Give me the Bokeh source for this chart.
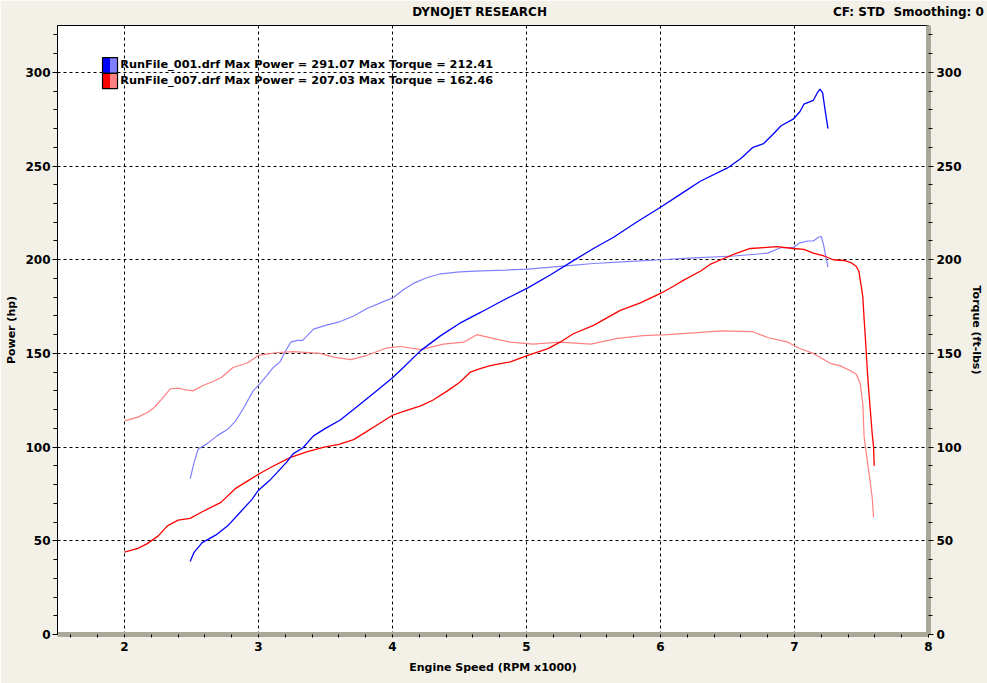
from bokeh.plotting import figure
from bokeh.models import Range1d, LinearAxis, FixedTicker, Label, BoxAnnotation
from bokeh.embed import file_html
from bokeh.resources import INLINE

# ---------------- data ----------------
X_TICKS = [2, 3, 4, 5, 6, 7, 8]
X_MINOR = [1.6, 1.8, 2.2, 2.4, 2.6, 2.8, 3.2, 3.4, 3.6, 3.8, 4.2, 4.4, 4.6, 4.8,
           5.2, 5.4, 5.6, 5.8, 6.2, 6.4, 6.6, 6.8, 7.2, 7.4, 7.6, 7.8]
Y_TICKS = [0, 50, 100, 150, 200, 250, 300]
Y_MINOR = [10, 20, 30, 40, 60, 70, 80, 90, 110, 120, 130, 140, 160, 170, 180, 190,
           210, 220, 230, 240, 260, 270, 280, 290, 310, 320]

TITLE = "DYNOJET RESEARCH"
SUBTITLE = "CF: STD\u00a0 Smoothing: 0"

RUNS = ["RunFile_001.drf", "RunFile_007.drf"]
MAX_POWER = [291.07, 207.03]
MAX_TORQUE = [212.41, 162.46]

# run 001 power (hp)
rpm_p1 = [2.49, 2.52, 2.58, 2.68, 2.77, 2.86, 2.95, 3.0, 3.08, 3.14, 3.21, 3.26, 3.33,
          3.41, 3.50, 3.61, 3.76, 3.88, 4.0, 4.06, 4.21, 4.36, 4.50, 4.66, 4.83, 5.01,
          5.18, 5.35, 5.50, 5.65, 5.82, 6.0, 6.15, 6.30, 6.50, 6.60, 6.69, 6.77, 6.84,
          6.90, 6.99, 7.04, 7.07, 7.14, 7.17, 7.19, 7.21, 7.23, 7.25]
pow_1 = [39, 44, 49, 53, 58, 65, 72, 77, 82, 86.5, 92, 96.5, 99.5,
         106, 110, 114.5, 123, 130, 137, 141, 151.5, 159.5, 166, 172, 178.5, 185,
         192, 199.5, 206, 212, 220, 228, 235, 242, 249, 254, 260, 262, 267,
         271.5, 275, 279, 283, 285, 289, 291, 289, 279, 270]

# run 001 torque (ft-lbs)
rpm_t1 = [2.49, 2.52, 2.55, 2.62, 2.69, 2.77, 2.83, 2.89, 2.96, 3.0, 3.06, 3.11, 3.16,
          3.20, 3.24, 3.29, 3.33, 3.41, 3.50, 3.61, 3.71, 3.81, 3.91, 4.01, 4.08, 4.16,
          4.26, 4.36, 4.50, 4.66, 4.85, 5.01, 5.25, 5.50, 5.75, 6.0, 6.25, 6.55, 6.80,
          6.90, 6.99, 7.04, 7.10, 7.14, 7.18, 7.20, 7.22, 7.23, 7.25]
trq_1 = [83, 92, 99, 102, 106, 109.5, 114, 121, 130, 133, 138, 142.5, 145.5,
         151, 156, 157, 157, 163, 165, 167, 170, 174, 177, 180, 184, 187.5,
         190.5, 192.5, 193.5, 194, 194.5, 195, 196.5, 198, 199, 200, 201, 202, 203.5,
         206.5, 206.5, 209, 210, 210, 212, 212.4, 207, 203, 196]

# run 007 power (hp)
rpm_p7 = [2.0, 2.1, 2.17, 2.25, 2.32, 2.40, 2.49, 2.58, 2.72, 2.83, 2.92, 3.0, 3.1,
          3.24, 3.36, 3.49, 3.6, 3.71, 3.8, 3.9, 4.0, 4.1, 4.21, 4.30, 4.41, 4.5, 4.58,
          4.66, 4.73, 4.88, 5.01, 5.16, 5.25, 5.35, 5.50, 5.60, 5.70, 5.85, 6.0, 6.1,
          6.17, 6.3, 6.37, 6.45, 6.55, 6.67, 6.77, 6.87, 6.99, 7.07, 7.14, 7.22, 7.29,
          7.37, 7.42, 7.46, 7.48, 7.50, 7.51, 7.52, 7.53, 7.54, 7.55, 7.56, 7.57, 7.58,
          7.59, 7.595]
pow_7 = [44, 46, 48.5, 52.5, 58, 61, 62, 65.5, 70.5, 78, 82, 85.5, 89.5,
         94.5, 97.5, 100, 101.5, 104, 108, 112.5, 117, 119.5, 122, 125, 130, 134.5, 140,
         142, 143.5, 145.5, 149, 152.6, 156, 160.5, 165, 169, 173, 177, 182, 186,
         189, 194, 197.5, 200, 203, 206, 206.5, 207, 206, 205.5, 203.5, 202, 200,
         199.6, 198.5, 196.5, 194, 185, 180, 168, 157, 145, 134, 125, 116, 107,
         100, 90]

# run 007 torque (ft-lbs)
rpm_t7 = [2.0, 2.1, 2.17, 2.22, 2.27, 2.34, 2.40, 2.46, 2.51, 2.59, 2.66, 2.72, 2.81,
          2.92, 3.0, 3.14, 3.26, 3.46, 3.56, 3.69, 3.81, 3.96, 4.06, 4.21, 4.38, 4.53,
          4.63, 4.75, 4.88, 5.05, 5.25, 5.48, 5.68, 5.87, 6.05, 6.25, 6.45, 6.69, 6.80,
          6.95, 7.04, 7.14, 7.27, 7.34, 7.41, 7.46, 7.49, 7.51, 7.52, 7.54, 7.56, 7.58,
          7.59]
trq_7 = [114, 116, 118.5, 121, 125, 131, 131.5, 130.5, 130, 133, 135, 137, 142.5,
         145, 149, 150.5, 151, 150, 148, 146.7, 149, 153, 153.7, 152, 155, 156,
         160, 158, 156, 155, 156, 155, 158, 159.5, 160, 161, 162, 161.6, 158.5,
         156, 152.6, 150, 144.6, 143.5, 141, 139, 134, 123, 105, 94.5, 84, 73,
         62.5]

# ---------------- figure ----------------
FONT = "DejaVu Sans"
p = figure(width=987, height=683, x_range=Range1d(1.5, 8), y_range=Range1d(0, 325),
           output_backend="svg", toolbar_location=None,
           min_border_left=57, min_border_right=59, min_border_top=25, min_border_bottom=49)
p.title.visible = False
p.extra_y_ranges = {"torque": Range1d(0, 325)}
p.border_fill_color = "#F2F0E7"
p.background_fill_color = "white"
p.outline_line_color = "black"
p.outline_line_width = 1

ax = p.xaxis[0]
ax.ticker = FixedTicker(ticks=X_TICKS, minor_ticks=X_MINOR)
ax.axis_label = "Engine Speed (RPM x1000)"
ay = p.yaxis[0]
ay.ticker = FixedTicker(ticks=Y_TICKS, minor_ticks=Y_MINOR)
ay.axis_label = "Power (hp)"
ar = LinearAxis(y_range_name="torque", axis_label="Torque (ft-lbs)",
                ticker=FixedTicker(ticks=Y_TICKS, minor_ticks=Y_MINOR))
p.add_layout(ar, "right")

for a in (ax, ay, ar):
    a.major_label_text_font = FONT
    a.major_label_text_font_style = "bold"
    a.major_label_text_font_size = "12px"
    a.major_label_text_color = "black"
    a.axis_label_text_font = FONT
    a.axis_label_text_font_style = "bold"
    a.axis_label_text_font_size = "11px"
    a.axis_label_text_color = "black"
    a.major_tick_in = 0
    a.minor_tick_in = 0
    a.major_tick_line_color = "black"
    a.minor_tick_line_color = "black"

ay.major_tick_out = 5
ay.minor_tick_out = 4
ay.major_label_standoff = 2
ay.axis_label_standoff = 4
ay.axis_line_color = "black"

ax.major_tick_out = 3
ax.minor_tick_out = 3
ax.major_label_standoff = 4
ax.axis_label_standoff = 7
ax.axis_line_color = "#ACA899"
ax.axis_line_width = 5

ar.major_tick_out = 5
ar.minor_tick_out = 4
ar.major_label_standoff = 3
ar.axis_label_standoff = 5
ar.axis_line_color = "#ACA899"
ar.axis_line_width = 5

# header texts (title centred, settings at right) carried by a bare top axis
title_at = [4.65, 7.85]
top = LinearAxis(ticker=FixedTicker(ticks=title_at, minor_ticks=[]),
                 major_label_overrides={title_at[0]: TITLE, title_at[1]: SUBTITLE},
                 axis_line_color=None, major_tick_line_color=None,
                 minor_tick_line_color=None, major_tick_out=0, major_tick_in=0,
                 minor_tick_out=0, minor_tick_in=0, major_label_standoff=7,
                 major_label_text_font=FONT, major_label_text_font_style="bold",
                 major_label_text_font_size="12px", major_label_text_color="black")
p.add_layout(top, "above")

p.xgrid.ticker = FixedTicker(ticks=X_TICKS)
p.ygrid.ticker = FixedTicker(ticks=Y_TICKS)
for g in (p.xgrid[0], p.ygrid[0]):
    g.grid_line_color = "black"
    g.grid_line_dash = "3 3"
    g.grid_line_width = 1

# ---------------- curves ----------------
p.line(rpm_t1, trq_1, color="#8080FF", line_width=1.2, y_range_name="torque")
p.line(rpm_t7, trq_7, color="#FF8080", line_width=1.2, y_range_name="torque")
p.line(rpm_p7, pow_7, color="#FF0000", line_width=1.3)
p.line(rpm_p1, pow_1, color="#0000FF", line_width=1.3)

# ---------------- legend ----------------
DARK = ["#0000FF", "#FF0000"]
LIGHT = ["#8080FF", "#FF8080"]
sw_l, sw_m, sw_r = 1.836, 1.892, 1.948
row_top = [307.9, 299.4]
row_bot = [299.4, 291.3]
row_mid = [304.2, 295.8]
for i in range(2):
    p.add_layout(BoxAnnotation(left=sw_l, right=sw_m, top=row_top[i], bottom=row_bot[i],
                               fill_color=DARK[i], fill_alpha=1, line_alpha=0))
    p.add_layout(BoxAnnotation(left=sw_m, right=sw_r, top=row_top[i], bottom=row_bot[i],
                               fill_color=LIGHT[i], fill_alpha=1, line_alpha=0))
    p.add_layout(BoxAnnotation(left=sw_l, right=sw_r, top=row_top[i], bottom=row_bot[i],
                               fill_alpha=0, line_color="black", line_width=1.2, line_alpha=1))
    txt = "%s Max Power = %.2f Max Torque = %.2f" % (RUNS[i], MAX_POWER[i], MAX_TORQUE[i])
    p.add_layout(Label(x=1.968, y=row_mid[i], text=txt, text_font=FONT,
                       text_font_style="bold", text_font_size="11.3px", text_color="black",
                       text_baseline="middle", text_align="left"))

open("out.html", "w").write(file_html(p, INLINE))
